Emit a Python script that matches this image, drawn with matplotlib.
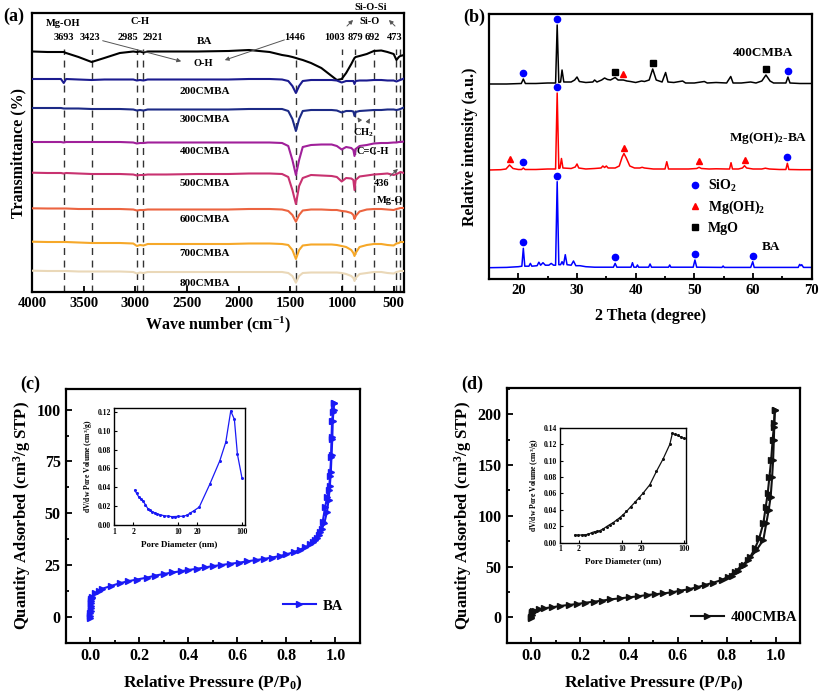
import matplotlib
matplotlib.use("Agg")
import matplotlib.pyplot as plt
from matplotlib.lines import Line2D
from matplotlib.ticker import MultipleLocator, FixedLocator

plt.rcParams['font.family'] = ['Liberation Serif', 'DejaVu Serif']
plt.rcParams['font.weight'] = 'bold'
plt.rcParams['axes.labelweight'] = 'bold'
plt.rcParams['mathtext.fontset'] = 'custom'
plt.rcParams['mathtext.rm'] = 'Liberation Serif:bold'
plt.rcParams['mathtext.it'] = 'Liberation Serif:bold'
plt.rcParams['mathtext.bf'] = 'Liberation Serif:bold'
plt.rcParams['axes.linewidth'] = 1.6

# ---------------- (a) FTIR ----------------
wn = [4000, 3850, 3720, 3693, 3670, 3550, 3423, 3300, 3150, 3020, 2985, 2955, 2921, 2880,
      2700, 2400, 2100, 1900, 1700, 1580, 1520, 1480, 1446, 1415, 1380, 1300, 1200, 1100,
      1050, 1003, 960, 910, 890, 879, 868, 830, 760, 692, 620, 560, 500, 473, 450, 436, 400]
t_ba = [240.5, 240, 240, 240, 239, 235, 230, 234, 239, 240.5, 240, 240.5, 239.5, 240.5, 240.5,
        240.5, 241, 242, 240, 237, 236, 235, 234, 233, 232, 229, 224, 216, 212, 213, 219, 228,
        232, 234, 235, 236, 238, 241, 241.5, 240, 238, 232, 235, 236, 237]
t_200 = [213, 213, 213, 209, 213, 212.5, 212, 212.5, 212.5, 212.5, 211.5, 212, 211.5, 212.5,
         212.5, 212.5, 212.5, 213, 213, 212.5, 211, 206, 199, 206, 211, 212, 212, 212, 211.5,
         209.5, 211, 211, 211, 208, 211, 211.5, 211.5, 212, 212, 211.5, 211.5, 210.5, 211.5,
         212, 213.5]
t_300 = [184, 184, 184, 183.5, 183.5, 183.5, 183, 183, 183, 182.5, 181.5, 182, 181.5, 182.5,
         182.5, 182.5, 182.5, 183, 183, 183, 181, 173, 161, 173, 181, 182, 182, 182, 181.5,
         179.5, 181, 181, 180.5, 176, 180, 181, 181.5, 182, 182, 182.5, 182.5, 182, 182.5,
         183, 184.5]
t_400 = [150, 150, 150, 149.5, 150, 150, 150, 150, 150, 149.5, 148.5, 149, 149, 149.5, 149.5,
         149.5, 149.5, 149.5, 149.5, 149, 146, 132, 117, 132, 145, 147, 147.5, 147.5, 146,
         142.5, 145, 144, 142, 136, 143, 146, 147, 148.5, 149, 149, 149.5, 149.5, 150, 150,
         150.5]
t_500 = [119.3, 119, 119, 118.5, 119, 118.5, 118, 118, 118, 117.5, 116.5, 117, 117, 117.5,
         117.5, 118, 118, 118.5, 118.5, 118, 115, 102, 88, 106, 114, 117, 116.5, 116, 115,
         110.5, 114, 113.5, 112, 102, 112, 115.5, 116.5, 117.5, 118, 118.5, 117, 118, 119,
         120, 119]
t_600 = [83.7, 83.5, 83.5, 83.5, 83.5, 83, 83, 83, 83, 82.5, 81.5, 82, 82, 82.5, 82.5, 82.5,
         82.5, 83, 83, 82.5, 81, 77, 70.3, 77, 81.5, 82.5, 82.5, 82, 82, 81, 80.5, 79, 77, 73,
         76, 80.5, 82.5, 83, 83, 82.5, 82, 83, 83.5, 84, 84]
t_700 = [50.3, 50, 50, 50, 50, 49.5, 49, 49, 49, 48.5, 46, 47, 46.5, 48, 48, 48, 48, 48.5,
         48.5, 48, 47, 42, 33, 42, 46.5, 47.5, 47.5, 47.5, 47, 46, 45, 42, 39, 36, 39, 45, 47,
         48, 48, 47, 46.5, 48.5, 49, 50, 50]
t_800 = [21.3, 21, 21, 21, 21, 20.5, 20.5, 20.5, 20.5, 20, 18.5, 19.5, 19, 20, 20, 20, 20, 20,
         20, 20, 19, 16, 9.3, 16, 19, 19.5, 19.5, 19.5, 19.5, 19, 18, 16, 14, 11, 14, 18, 19,
         20, 20, 19, 18.5, 20, 20.5, 21, 21]
ftir_names = ['BA', '200CMBA', '300CMBA', '400CMBA', '500CMBA', '600CMBA', '700CMBA', '800CMBA']
ftir_colors = ['#000000', '#1b1b8f', '#1c2a86', '#a0209a', '#c83270', '#ec6440', '#f6a829', '#ead8b8']
ftir_label_y = [250, 200, 172, 140, 108, 73, 39, 9]
mark_wn = [3693, 3423, 2985, 2921, 1446, 1003, 879, 692, 473, 436]
peak_labels = ['3693', '3423', '2985', '2921', '1446', '1003', '879', '692', '473']
peak_label_x = [3690, 3439, 3071, 2830, 1456, 1070, 867, 702, 490]

# ---------------- (b) XRD ----------------
x_400 = [15, 18, 20.5, 20.85, 21.2, 23, 25, 26.35, 26.62, 26.9, 27.2, 27.45, 27.75, 29, 29.6, 30,
         30.4, 31.5, 32.7, 33, 33.4, 34.2, 34.7, 35.2, 35.7, 36.5, 37, 37.9, 38.5, 39.1, 40, 41,
         41.5, 42.3, 42.9, 43.5, 44.5, 45.1, 45.5, 46.5, 48, 48.5, 50, 51.7, 52.2, 53.7, 55.5,
         56.2, 56.6, 58, 59.6, 60.5, 61.5, 62.2, 62.9, 63.5, 65.6, 65.95, 66.3, 68, 70]
i_400 = [0, 0, 0.5, 5, 0.5, 0.5, 1, 1, 59, 1.5, 2, 14, 2, 2, 4, 7, 2.5, 1.5, 2, 4, 2, 4, 6, 4.5,
         4, 6.5, 4, 4, 3, 2.5, 1.5, 3, 2.5, 4, 15, 4, 2, 11.5, 2, 1.5, 3, 1, 1, 2.5, 1, 1.5, 1,
         7.5, 1, 1, 2, 1, 3, 9, 3, 1, 1, 7, 1, 0.5, 0.5]
x_mgoh = [15, 17, 17.9, 18.5, 19.1, 20, 20.55, 20.85, 21.15, 23, 25, 26.35, 26.62, 26.9, 27.1,
          27.35, 27.6, 29, 29.7, 30.0, 30.3, 31.5, 33, 34.1, 34.4, 34.7, 35.0, 35.3, 36.5, 37.2,
          37.7, 38.0, 38.4, 39.0, 39.8, 40.7, 41.1, 41.5, 43, 45.0, 45.3, 45.6, 47, 49, 50.4,
          50.8, 51.2, 52.5, 53.7, 55.5, 56.0, 56.25, 56.5, 57.5, 58.2, 58.55, 58.9, 60, 61.5,
          62.1, 62.8, 64.5, 65.6, 65.85, 66.1, 68, 70]
i_mgoh = [0, 0.3, 1, 5, 1.5, 0.5, 0.5, 2, 0.5, 0.5, 1, 1, 77, 1.5, 2, 11.5, 2, 1.5, 3, 6, 2, 1,
          1.5, 2, 4, 2.5, 4, 2, 2, 4, 13, 16.5, 12, 4, 2, 2, 2.7, 2, 1, 1, 8.3, 1, 1, 1, 1.5, 2.7,
          1.5, 1, 1.2, 1, 1, 7.3, 1, 1, 2, 4.3, 2, 1, 1, 1.8, 1, 0.5, 0.5, 6.7, 0.5, 0.3, 0.3]
x_ba = [15, 18, 20, 20.6, 20.85, 21.1, 21.8, 22.05, 22.3, 23.2, 23.5, 23.8, 24.2, 24.6, 25.2,
        25.6, 26.0, 26.35, 26.62, 26.9, 27.2, 27.45, 27.7, 28.0, 28.3, 29.0, 29.4, 29.8, 30.5,
        31.5, 33, 36.2, 36.5, 36.8, 39.2, 39.45, 39.7, 40.1, 40.3, 40.5, 42.2, 42.45, 42.7, 45.6,
        45.8, 46.0, 49.8, 50.1, 50.4, 54.7, 54.9, 55.1, 59.6, 59.95, 60.2, 64, 67.7, 67.95,
        68.15, 68.3, 68.6, 70]
i_ba = [0, 0.3, 1, 1.5, 19.4, 1.5, 1.5, 4.3, 1.5, 2, 5.5, 2.5, 5, 2.5, 2.5, 4.3, 2.5, 2.5, 86, 3,
        3, 6, 3, 13, 3, 2.5, 6.7, 2, 2, 1, 0.5, 0.5, 4.3, 0.5, 0.5, 5, 0.5, 0.5, 2.7, 0.5, 0.5,
        3.7, 0.5, 0.5, 2.7, 0.5, 0.5, 7.7, 0.5, 0.3, 1.7, 0.3, 0.3, 6, 0.3, 0.3, 0.3, 3.3, 2, 3,
        0.3, 0.3]
xrd_offsets = [195.3, 109.3, 11.6]
xrd_names = ['400CMBA', 'Mg(OH)$_2$-BA', 'BA']
xrd_colors = ['#000000', '#ff0000', '#0000ff']
sio2_400 = [20.85, 26.62, 65.95]
mgo_400 = [36.5, 42.9, 62.2]
mgoh_400 = [37.9]
sio2_mgoh = [20.85, 26.62, 65.85]
mgoh_mgoh = [18.5, 38.0, 50.8, 58.55]
sio2_ba = [20.85, 26.62, 36.5, 50.1, 59.95]

# ---------------- (c) BA isotherm ----------------
p_ba_ads = [0.0005, 0.0008, 0.001, 0.0013, 0.0016, 0.002, 0.0025, 0.003, 0.004, 0.006, 0.009,
            0.02, 0.035, 0.05, 0.085, 0.12, 0.155, 0.19, 0.23, 0.265, 0.3, 0.335, 0.37, 0.4,
            0.435, 0.47, 0.5, 0.535, 0.57, 0.605, 0.64, 0.675, 0.71, 0.74, 0.775, 0.8, 0.83,
            0.855, 0.877, 0.898, 0.918, 0.932, 0.945, 0.955, 0.965, 0.972, 0.977, 0.981, 0.984,
            0.987, 0.989, 0.992, 0.994]
q_ba_ads = [-0.8, 0.5, 1.8, 3.0, 4.2, 5.4, 6.5, 7.5, 8.5, 9.2, 9.8, 11.3, 12.6, 13.6, 14.9,
            16.2, 17.2, 18.0, 18.9, 19.9, 20.7, 21.4, 22.0, 22.6, 23.2, 23.9, 24.5, 25.0, 25.6,
            26.1, 26.8, 27.4, 28.0, 28.6, 29.4, 30.2, 31.2, 32.4, 33.6, 35.0, 37.0, 39.4, 42.5,
            45.5, 50.5, 56.5, 63, 70, 78, 86, 94.5, 100, 103]
p_ba_des = [0.994, 0.99, 0.986, 0.984, 0.982, 0.978, 0.973, 0.966, 0.958, 0.948, 0.938, 0.925,
            0.91]
q_ba_des = [103, 99, 94.5, 87, 77, 68, 61, 58, 53, 46, 41, 38, 36]
d_ba = [2.11, 2.25, 2.43, 2.62, 2.81, 3.09, 3.4, 3.65, 3.92, 4.3, 4.69, 5.3, 5.93, 6.9, 7.98,
        9.0, 10.1, 12.1, 13.8, 15.3, 17.5, 21.3, 31, 44.5, 55.2, 65.9, 75.1, 83.8, 98.6]
dv_ba = [0.0369, 0.0335, 0.0298, 0.028, 0.0258, 0.0215, 0.0169, 0.0155, 0.0143, 0.013, 0.0118,
         0.0108, 0.0100, 0.0094, 0.0089, 0.0090, 0.0092, 0.0093, 0.0105, 0.0126, 0.0150, 0.019,
         0.043, 0.068, 0.0878, 0.1208, 0.112, 0.075, 0.050]

# ---------------- (d) 400CMBA isotherm ----------------
p_c4_ads = [0.0005, 0.001, 0.002, 0.003, 0.005, 0.008, 0.014, 0.031, 0.052, 0.086, 0.12, 0.154,
            0.188, 0.222, 0.256, 0.29, 0.324, 0.365, 0.399, 0.439, 0.473, 0.507, 0.541, 0.576,
            0.61, 0.644, 0.678, 0.712, 0.746, 0.78, 0.807, 0.834, 0.861, 0.888, 0.922, 0.95,
            0.962, 0.972, 0.98, 0.986, 0.99, 0.993, 0.995, 0.997]
q_c4_ads = [-1, 0.5, 2.3, 3.9, 4.9, 5.8, 6.6, 7.9, 8.9, 9.9, 11.2, 12.2, 13.1, 14.4, 15.4, 16.4,
            17.7, 18.7, 19.7, 20.7, 22.0, 22.7, 23.6, 24.6, 26.3, 27.6, 29.6, 31.9, 34.2, 36.8,
            40.1, 45, 50.6, 56.5, 66.3, 76.2, 92.6, 105.7, 118.9, 138.6, 155, 174.7, 191.1, 204.3]
p_c4_des = [0.997, 0.993, 0.988, 0.982, 0.975, 0.968, 0.96, 0.95, 0.933, 0.916, 0.895, 0.87,
            0.845, 0.82]
q_c4_des = [204.3, 187.8, 174.7, 155, 138.6, 122.2, 109, 92.6, 77.8, 68, 59, 51.5, 46, 41]
d_c4 = [1.74, 1.95, 2.22, 2.5, 2.85, 3.22, 3.64, 4.0, 4.38, 5.0, 5.6, 6.3, 7.17, 8.1, 9.17, 10.3,
        11.7, 13.6, 15.9, 18.5, 21.7, 27.8, 35.5, 45.4, 58.1, 64, 70, 78.8, 88, 100]
dv_c4 = [0.0094, 0.0092, 0.0094, 0.0097, 0.0102, 0.0122, 0.0135, 0.0138, 0.0147, 0.017, 0.0196,
         0.022, 0.0245, 0.0275, 0.0306, 0.034, 0.038, 0.0435, 0.049, 0.0545, 0.0604, 0.0706,
         0.0869, 0.102, 0.1196, 0.1331, 0.1318, 0.1306, 0.1285, 0.1269]

W, H = 827, 694
fig = plt.figure(figsize=(W / 100, H / 100), dpi=100)


def box(l, t, r, b):
    return [l / W, 1 - b / H, (r - l) / W, (b - t) / H]


def style(ax, size=10):
    ax.tick_params(direction='in', which='both', top=False, right=False, labelsize=size, width=1.3)
    ax.tick_params(which='major', length=4)
    ax.tick_params(which='minor', length=2.5)


# ---- (a)
axa = fig.add_axes(box(32, 13, 404, 292))
for w in mark_wn:
    axa.plot([w, w], [0, 243], ls=(0, (5, 4)), color='#333333', lw=1.0, zorder=1)
for ys, c, name, ly in zip([t_ba, t_200, t_300, t_400, t_500, t_600, t_700, t_800],
                           ftir_colors, ftir_names, ftir_label_y):
    axa.plot(wn, ys, color=c, lw=1.5, zorder=3)
    axa.text(2327, ly, name, ha='center', va='center', fontsize=8, fontweight='bold', zorder=4)
for lab, lx in zip(peak_labels, peak_label_x):
    axa.text(lx, 254, lab, ha='center', va='center', fontsize=7.5, fontweight='bold')
axa.text(3700, 268, 'Mg-OH', ha='center', va='center', fontsize=7.5)
axa.text(2955, 270, 'C-H', ha='center', va='center', fontsize=7.5)
axa.text(730, 271, 'Si-O', ha='center', va='center', fontsize=7.5)
axa.text(720, 285, 'Si-O-Si', ha='center', va='center', fontsize=7.5, clip_on=False)
axa.text(2345, 229, 'O-H', ha='center', va='center', fontsize=7.5)
axa.text(790, 159, 'CH$_2$', ha='center', va='center', fontsize=7.5)
axa.text(705, 140, 'C=C-H', ha='center', va='center', fontsize=7.5)
axa.text(613, 109, '436', ha='center', va='center', fontsize=7.5)
axa.text(536, 92, 'Mg-O', ha='center', va='center', fontsize=7.5)
ap = dict(arrowstyle='-|>', color='#555555', lw=0.7, mutation_scale=6)
axa.annotate('', xy=(2530, 230), xytext=(3342, 252), arrowprops=ap)
axa.annotate('', xy=(2160, 231), xytext=(1532, 253), arrowprops=ap)
axa.annotate('', xy=(874, 274), xytext=(971, 264), arrowprops=ap)
axa.annotate('', xy=(565, 274), xytext=(468, 264), arrowprops=ap)
axa.annotate('', xy=(865, 177), xytext=(826, 171), arrowprops=ap)
axa.annotate('', xy=(719, 176), xytext=(748, 170), arrowprops=ap)
axa.annotate('', xy=(439, 125), xytext=(555, 114), arrowprops=ap)
axa.set_xlim(4000, 400)
axa.set_ylim(0, 279)
axa.set_yticks([])
axa.xaxis.set_major_locator(MultipleLocator(500))
style(axa, 10.5)
axa.set_xlabel('Wave number (cm$^{-1}$)', fontsize=11.5, labelpad=3)
axa.set_ylabel('Transmittance (%)', fontsize=11.5, labelpad=4)
fig.text(14 / W, 1 - 16 / H, '(a)', fontsize=13, fontweight='bold', ha='center', va='center')

# ---- (b)
axb = fig.add_axes(box(489, 14, 811.7, 279.3))
pats = [(x_400, i_400), (x_mgoh, i_mgoh), (x_ba, i_ba)]
for (xs, ii), off, c in zip(pats, xrd_offsets, xrd_colors):
    axb.plot(xs, [v + off for v in ii], color=c, lw=1.1)


def mark(ax, pos, pat, off, marker, color, size):
    xs, ii = pat
    for p in pos:
        local = [v for x, v in zip(xs, ii) if abs(x - p) <= 0.45]
        ax.plot(p, off + max(local) + 6, marker=marker, color=color, ms=size, ls='none')


mark(axb, sio2_400, pats[0], xrd_offsets[0], 'o', '#0000ff', 4.5)
mark(axb, mgo_400, pats[0], xrd_offsets[0], 's', '#000000', 4)
mark(axb, mgoh_400, pats[0], xrd_offsets[0], '^', '#ff0000', 5)
mark(axb, sio2_mgoh, pats[1], xrd_offsets[1], 'o', '#0000ff', 4.5)
mark(axb, mgoh_mgoh, pats[1], xrd_offsets[1], '^', '#ff0000', 5)
mark(axb, sio2_ba, pats[2], xrd_offsets[2], 'o', '#0000ff', 4.5)
axb.text(61.7, 226, xrd_names[0], ha='center', va='center', fontsize=9.5)
axb.text(62.6, 141, xrd_names[1], ha='center', va='center', fontsize=9.5)
axb.text(63.1, 32, xrd_names[2], ha='center', va='center', fontsize=9.5)
hb = [Line2D([], [], ls='none', marker='o', color='#0000ff', ms=4.5),
      Line2D([], [], ls='none', marker='^', color='#ff0000', ms=5),
      Line2D([], [], ls='none', marker='s', color='#000000', ms=4)]
axb.legend(hb, ['SiO$_2$', 'Mg(OH)$_2$', 'MgO'], loc='upper left', bbox_to_anchor=(0.6, 0.405),
           frameon=False, fontsize=10, handlelength=1.0, handletextpad=0.4, labelspacing=0.4,
           borderaxespad=0)
axb.set_xlim(15, 70)
axb.set_ylim(0, 265.3)
axb.set_yticks([])
axb.xaxis.set_major_locator(MultipleLocator(10))
axb.xaxis.set_minor_locator(MultipleLocator(5))
style(axb, 10.5)
axb.set_xlabel('2 Theta (degree)', fontsize=11.5, labelpad=8)
axb.set_ylabel('Relative intensity (a.u.)', fontsize=11.5, labelpad=8)
fig.text(474 / W, 1 - 17 / H, '(b)', fontsize=13, fontweight='bold', ha='center', va='center')


# ---- (c) and (d)
def isotherm(rect, pa, qa, pd, qd, color, label, ylim, ymaj, leg_anchor):
    ax = fig.add_axes(rect)
    ax.plot(pa, qa, color=color, lw=1.5, marker='>', ms=4.5, label=label)
    ax.plot(pd, qd, color=color, lw=1.5, marker='>', ms=4.5)
    ax.set_xlim(-0.1, 1.1)
    ax.set_ylim(*ylim)
    ax.xaxis.set_major_locator(MultipleLocator(0.2))
    ax.xaxis.set_minor_locator(MultipleLocator(0.1))
    ax.yaxis.set_major_locator(MultipleLocator(ymaj))
    ax.yaxis.set_minor_locator(MultipleLocator(ymaj / 2))
    ax.xaxis.set_major_formatter(matplotlib.ticker.FormatStrFormatter('%.1f'))
    style(ax, 11.5)
    ax.set_xlabel('Relative Pressure (P/P$_0$)', fontsize=12.5, labelpad=7)
    ax.set_ylabel('Quantity Adsorbed (cm$^3$/g STP)', fontsize=12, labelpad=3)
    ax.legend(loc='center left', bbox_to_anchor=leg_anchor, frameon=False, fontsize=10.5,
              handlelength=2.2, handletextpad=0.5, borderaxespad=0)
    return ax


isotherm(box(65.7, 389, 360, 642.7), p_ba_ads, q_ba_ads, p_ba_des, q_ba_des, '#1a1af5', 'BA',
         (-12.5, 110), 25, (0.72, 0.145))
fig.text(30 / W, 1 - 384 / H, '(c)', fontsize=13, fontweight='bold', ha='center', va='center')
isotherm(box(506.7, 388.3, 800, 642.7), p_c4_ads, q_c4_ads, p_c4_des, q_c4_des, '#111111',
         '400CMBA', (-25, 225.6), 50, (0.61, 0.10))
fig.text(472 / W, 1 - 384 / H, '(d)', fontsize=13, fontweight='bold', ha='center', va='center')


def inset(rect, d, dv, color, ylim, ystep):
    ax = fig.add_axes(rect)
    ax.plot(d, dv, color=color, lw=0.9, marker='o', ms=1.2)
    ax.set_xscale('log')
    ax.set_xlim(1, ylim[2])
    ax.set_ylim(ylim[0], ylim[1])
    ax.xaxis.set_major_locator(FixedLocator([1, 2, 10, 20, 100]))
    ax.xaxis.set_minor_locator(FixedLocator([]))
    ax.set_xticklabels(['1', '2', '10', '20', '100'])
    ax.yaxis.set_major_locator(MultipleLocator(ystep))
    ax.yaxis.set_major_formatter(matplotlib.ticker.FormatStrFormatter('%.2f'))
    ax.tick_params(direction='in', which='both', top=False, right=False, labelsize=5.5,
                   length=2, width=0.8, pad=2)
    for s in ax.spines.values():
        s.set_linewidth(1.0)
    ax.set_xlabel('Pore Diameter (nm)', fontsize=6.5, labelpad=3)
    ax.set_ylabel('dV/dw Pore Volume (cm$^3$/g)', fontsize=5.5, labelpad=2)
    return ax


inset(box(114, 408, 245, 525), d_ba, dv_ba, '#1a1af5', (0, 0.124, 110), 0.02)
inset(box(560, 427.7, 685.5, 542.7), d_c4, dv_c4, '#111111', (0, 0.14, 104), 0.02)

fig.savefig('out.png', dpi=100)
